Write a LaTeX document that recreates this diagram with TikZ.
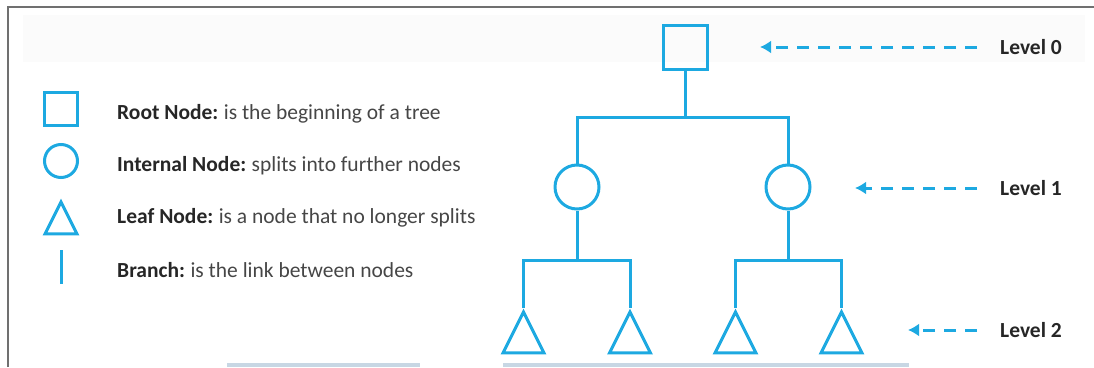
\documentclass[tikz,border=0pt]{standalone}
\usepackage{fontspec}
\setmainfont{Carlito}
\usetikzlibrary{shapes.geometric,arrows.meta}
\tikzset{>=Latex}
\definecolor{treeblue}{RGB}{29,169,225}
\definecolor{framegray}{RGB}{112,112,112}
\definecolor{inkgray}{RGB}{70,70,70}
\definecolor{stripblue}{RGB}{200,215,228}
\newcommand{\legendtext}[2]{\textcolor{black!85}{\textbf{#1}}\hspace{-1pt} #2}

\begin{document}
\begin{tikzpicture}[x=1pt,y=-1pt,
  tree/.style={draw=treeblue,line width=3pt,inner sep=0pt},
  rootbox/.style={tree,rectangle,minimum size=#1},
  splitnode/.style={tree,circle,minimum size=#1},
  leafnode/.style={tree,isosceles triangle,isosceles triangle stretches,shape border rotate=90,minimum width=#1,minimum height=#1,anchor=apex},
  branch/.style={treeblue,line width=3pt},
  levelarrow/.style={treeblue,line width=3pt,dash pattern=on 12pt off 9pt,->,>={Latex[length=11pt,width=13pt]},shorten <=23pt},
  legend/.style={anchor=west,inner sep=0pt,text=inkgray,font=\fontsize{21.5}{25}\selectfont},
  level/.style={anchor=west,inner sep=0pt,text=black!85,font=\fontsize{21.5}{25}\selectfont\bfseries}]
  \useasboundingbox (0,0) rectangle (1094,367);
  \fill[black!1.5] (23,15) rectangle (1085,62);
  \draw[framegray,line width=2pt] (8,367) -- (8,7) -- (1094,7);
  \fill[stripblue] (227,363) rectangle (909,367);
  \fill[white] (420,363) rectangle (503,367);

  \node[rootbox=33pt] (keyroot) at (61,108.5) {};
  \node[splitnode=33pt] (keysplit) at (61,161) {};
  \node[leafnode=32pt] (keyleaf) at (61,198) {};
  \coordinate (keytop) at (61,250);
  \coordinate (keybot) at (61,284);
  \draw[branch] (keytop) -- (keybot);
  \node[legend] (txtroot) at (117,114) {\legendtext{Root Node:}{is the beginning of a tree}};
  \node[legend] (txtsplit) at (117,166) {\legendtext{Internal Node:}{splits into further nodes}};
  \node[legend] (txtleaf) at (117,218) {\legendtext{Leaf Node:}{is a node that no longer splits}};
  \node[legend] (txtbranch) at (117,270) {\legendtext{Branch:}{is the link between nodes}};

  \node[rootbox=44pt] (root) at (685.5,47) {};
  \node[splitnode=44pt] (in1) at (577,187) {};
  \node[splitnode=44pt] (in2) at (788,187) {};
  \coordinate (j0) at (685.5,117);
  \coordinate (j1) at (577,260);
  \coordinate (j2) at (788,260);
  \node[leafnode=41pt] (leaf1) at (523.5,308) {};
  \node[leafnode=41pt] (leaf2) at (630,308) {};
  \node[leafnode=41pt] (leaf3) at (735.5,308) {};
  \node[leafnode=41pt] (leaf4) at (841.5,308) {};
  \draw[branch] (root) -- (j0);
  \draw[branch] (in1) |- (j0) -| (in2);
  \draw[branch] (in1) -- (j1);
  \draw[branch] (in2) -- (j2);
  \draw[branch] (leaf1.apex) |- (j1) -| (leaf2.apex);
  \draw[branch] (leaf3.apex) |- (j2) -| (leaf4.apex);

  \node[level] (lv0) at (1000,47) {Level 0};
  \node[level] (lv1) at (1000,188) {Level 1};
  \node[level] (lv2) at (1000,330) {Level 2};
  \coordinate (tip0) at (760,47);
  \coordinate (tip1) at (855,188);
  \coordinate (tip2) at (908,330);
  \draw[levelarrow] (lv0) -- (tip0);
  \draw[levelarrow] (lv1) -- (tip1);
  \draw[levelarrow] (lv2) -- (tip2);
\end{tikzpicture}
\end{document}
